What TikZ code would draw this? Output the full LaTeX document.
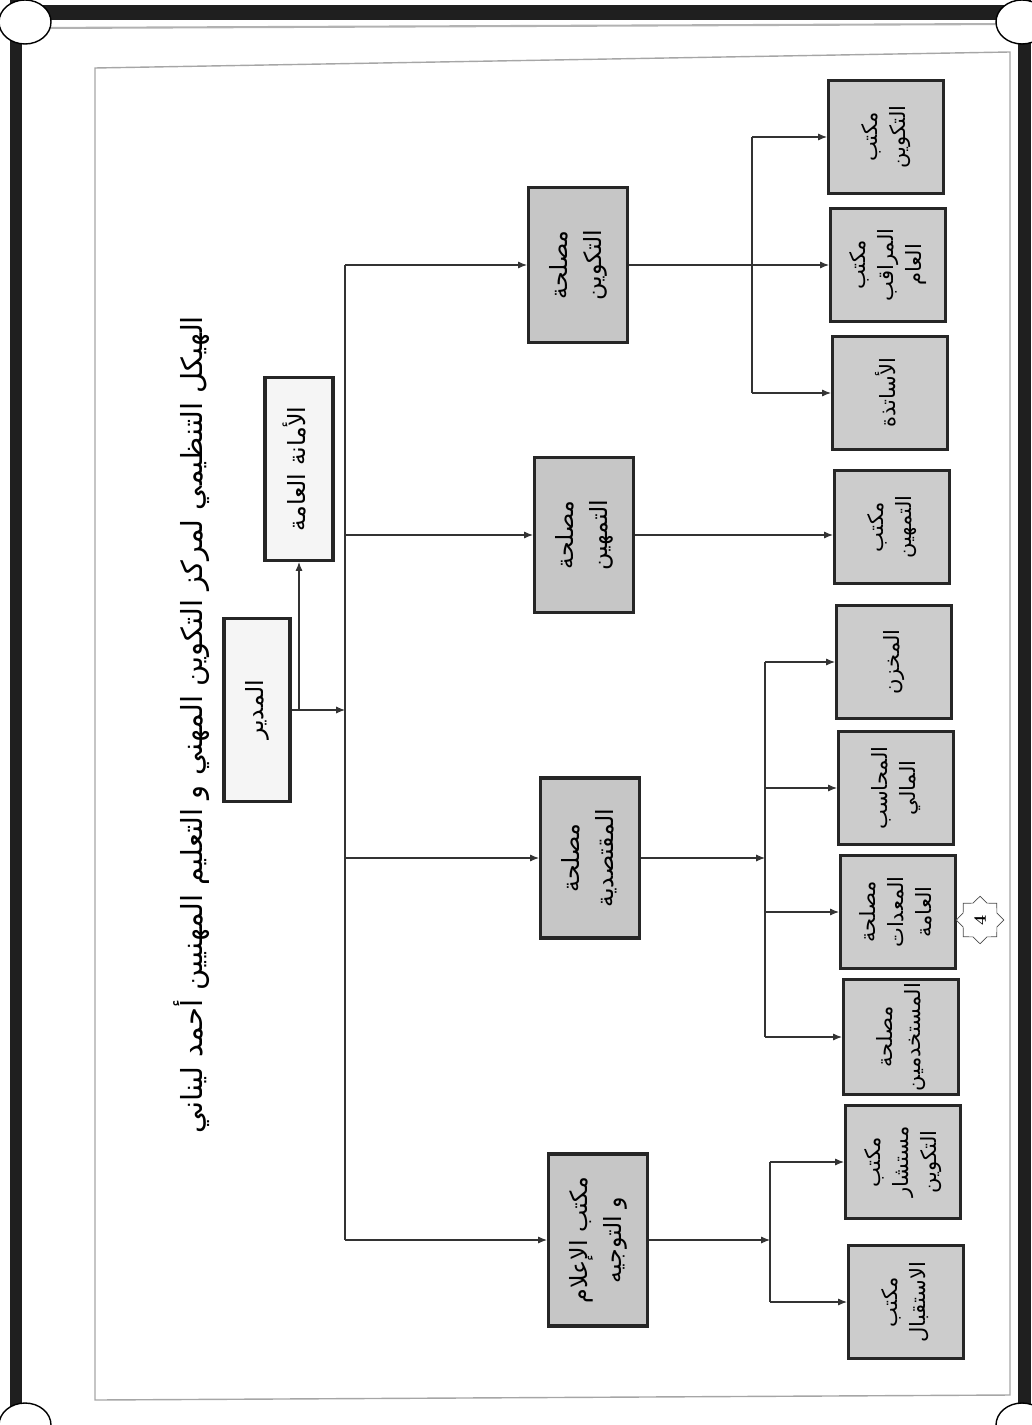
\documentclass[tikz,border=0pt]{standalone}
\usepackage{fontspec}
\usepackage{graphicx}
\newfontfamily\arabicfont[Script=Arabic]{DejaVu Sans}
\TeXXeTstate=1
\usetikzlibrary{arrows.meta,shapes.geometric}

% one right-to-left line, and a rotated block of such lines
\newcommand{\rl}[1]{\beginR #1\endR}
\newcommand{\vtext}[1]{\rotatebox{90}{\arabicfont\begin{tabular}{@{}c@{}}#1\end{tabular}}}

\tikzset{
  unitbox/.style={draw=black!85, line width=1.8pt, fill=gray!40,
    inner sep=2pt, minimum width=2.3cm, minimum height=2.26cm,
    font=\fontsize{12}{16}\selectfont},
  deptbox/.style={unitbox, fill=gray!45, minimum width=1.98cm, minimum height=3.1cm,
    font=\fontsize{13.5}{19}\selectfont},
  headbox/.style={unitbox, fill=gray!8, minimum width=1.32cm, minimum height=3.66cm,
    font=\fontsize{13.5}{19}\selectfont},
  link/.style={line width=0.6pt, draw=black!80, -{Latex[length=5pt,width=4pt]}},
  wire/.style={line width=0.6pt, draw=black!80},
}

\begin{document}
\begin{tikzpicture}[x=0.02cm, y=-0.02cm]
\useasboundingbox (0,0) rectangle (1031,1425);

% scan edges
\fill[black!88] (10,0) rectangle (22,1425);
\fill[black!88] (1018,0) rectangle (1031,1425);
\fill[black!88] (10,5) rectangle (1031,20);
\draw[gray!60, line width=1.2pt] (40,28) -- (1010,24);
\foreach \cx/\cy in {25/22, 1022/22, 25/1425, 1022/1425}
  \filldraw[fill=white, draw=black, line width=0.8pt] (\cx,\cy) ellipse [x radius=26, y radius=22];

% frame
\draw[gray!70, line width=0.8pt] (95,68) -- (1010,52) -- (1010,1395) -- (95,1400) -- cycle;

% title
\node (title) at (192,725) {\rotatebox{90}{\arabicfont\fontsize{16.5}{20}\selectfont
  \beginR الهيكل التنظيمي لمركز التكوين المهني و التعليم المهنيين أحمد ليناني\endR}};

% head
\node[headbox] (dir) at (257,710) {\vtext{\rl{المدير}}};
\node[headbox, minimum width=1.36cm] (sec) at (299,469) {\vtext{\rl{الأمانة العامة}}};

% departments
\node[deptbox] (D1) at (578,265) {\vtext{\rl{مصلحة}\\\rl{التكوين}}};
\node[deptbox] (D2) at (584,535) {\vtext{\rl{مصلحة}\\\rl{التمهين}}};
\node[deptbox, minimum height=3.2cm] (D3) at (590,858) {\vtext{\rl{مصلحة}\\\rl{المقتصدية}}};
\node[deptbox, minimum height=3.44cm] (D4) at (598,1240) {\vtext{\rl{مكتب الإعلام}\\\rl{و التوجيه}}};

% offices
\node[unitbox] (S1) at (886,137) {\vtext{\rl{مكتب}\\\rl{التكوين}}};
\node[unitbox] (S2) at (888,265) {\vtext{\rl{مكتب}\\\rl{المراقب}\\\rl{العام}}};
\node[unitbox] (S3) at (890,393) {\vtext{\rl{الأساتذة}}};
\node[unitbox] (S4) at (892,527) {\vtext{\rl{مكتب}\\\rl{التمهين}}};
\node[unitbox] (S5) at (894,662) {\vtext{\rl{المخزن}}};
\node[unitbox] (S6) at (896,788) {\vtext{\rl{المحاسب}\\\rl{المالي}}};
\node[unitbox] (S7) at (898,912) {\vtext{\rl{مصلحة}\\\rl{المعدات}\\\rl{العامة}}};
\node[unitbox] (S8) at (901,1037) {\vtext{\rl{مصلحة}\\\rl{المستخدمين}}};
\node[unitbox] (S9) at (903,1162) {\vtext{\rl{مكتب}\\\rl{مستشار}\\\rl{التكوين}}};
\node[unitbox] (S10) at (906,1302) {\vtext{\rl{مكتب}\\\rl{الاستقبال}}};

% page number
\node[star, star points=8, star point ratio=1.3, draw=black!70, fill=white,
  minimum size=0.95cm, inner sep=1pt] (badge) at (980,920) {\rotatebox{90}{\bfseries 4}};

% links
\coordinate (tm) at (345,710);
\coordinate (b1) at (752,0);
\coordinate (b3) at (765,0);
\coordinate (b4) at (770,0);

\draw[link] (dir.east) -- (tm);
\draw[link] (sec.south |- dir.east) -- (sec.south);
\draw[wire] (D1.west -| tm) -- (D4.west -| tm);
\foreach \d in {D1,D2,D3,D4}
  \draw[link] (\d.west -| tm) -- (\d.west);

\draw[link] (D1.east) -- (S2.west);
\draw[wire] (S1.west -| b1) -- (S3.west -| b1);
\foreach \s in {S1,S3}
  \draw[link] (\s.west -| b1) -- (\s.west);

\draw[link] (D2.east) -- (S4.west |- D2.east);

\draw[link] (D3.east) -- (D3.east -| b3);
\draw[wire] (S5.west -| b3) -- (S8.west -| b3);
\foreach \s in {S5,S6,S7,S8}
  \draw[link] (\s.west -| b3) -- (\s.west);

\draw[link] (D4.east) -- (D4.east -| b4);
\draw[wire] (S9.west -| b4) -- (S10.west -| b4);
\foreach \s in {S9,S10}
  \draw[link] (\s.west -| b4) -- (\s.west);

\end{tikzpicture}
\end{document}
